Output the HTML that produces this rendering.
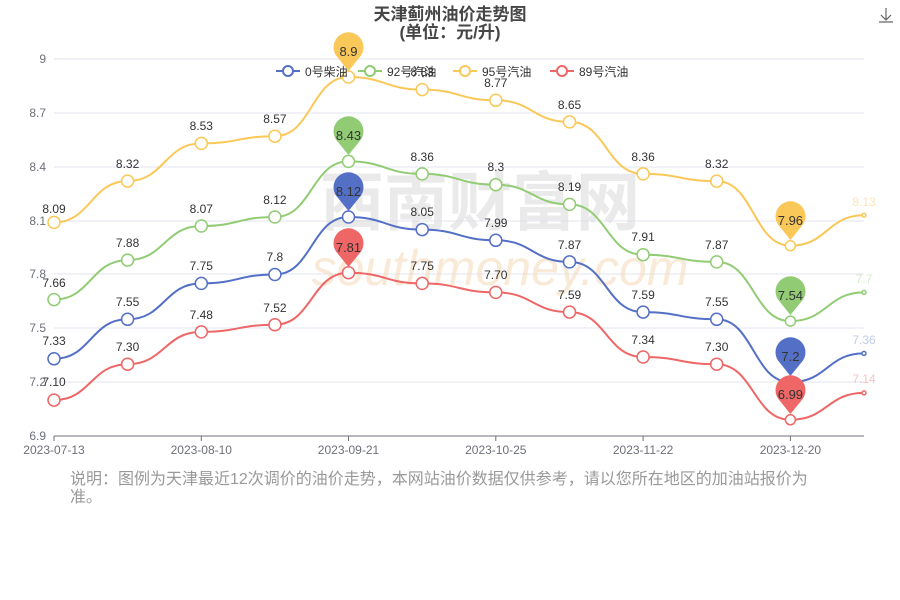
<!DOCTYPE html>
<html><head><meta charset="utf-8"><style>
body{margin:0;background:#fff;width:900px;height:600px;overflow:hidden;font-family:"Liberation Sans","Noto Sans CJK SC",sans-serif}
</style></head><body>
<svg width="900" height="600" xmlns="http://www.w3.org/2000/svg" style="position:absolute;left:0;top:0;font-family:'Liberation Sans','Noto Sans CJK SC',sans-serif">
<text x="450" y="20" text-anchor="middle" font-size="17" font-weight="bold" fill="#464646">天津蓟州油价走势图</text>
<text x="450" y="38" text-anchor="middle" font-size="17" font-weight="bold" fill="#464646">(单位：元/升)</text>
<g stroke="#666" fill="none" stroke-width="1.2"><path d="M886 8v12M881 15l5 5 5-5M879 22h14"/></g>
<g stroke="#e0e6f1" stroke-width="1">
<line x1="54" x2="864" y1="59" y2="59"/><line x1="54" x2="864" y1="113" y2="113"/><line x1="54" x2="864" y1="167" y2="167"/><line x1="54" x2="864" y1="221" y2="221"/><line x1="54" x2="864" y1="274" y2="274"/><line x1="54" x2="864" y1="328" y2="328"/><line x1="54" x2="864" y1="382" y2="382"/>
</g>
<line x1="54" x2="864" y1="436" y2="436" stroke="#6e7079"/>
<g stroke="#6e7079"><line x1="54" x2="54" y1="436" y2="441"/><line x1="201.3" x2="201.3" y1="436" y2="441"/><line x1="348.5" x2="348.5" y1="436" y2="441"/><line x1="495.8" x2="495.8" y1="436" y2="441"/><line x1="643.1" x2="643.1" y1="436" y2="441"/><line x1="790.4" x2="790.4" y1="436" y2="441"/></g>
<g font-size="12" fill="#6e7079" text-anchor="end">
<text x="46" y="63">9</text><text x="46" y="117">8.7</text><text x="46" y="171">8.4</text><text x="46" y="225">8.1</text><text x="46" y="278">7.8</text><text x="46" y="332">7.5</text><text x="46" y="386">7.2</text><text x="46" y="440">6.9</text>
</g>
<g font-size="12" fill="#6e7079" text-anchor="middle">
<text x="54" y="454">2023-07-13</text><text x="201.3" y="454">2023-08-10</text><text x="348.5" y="454">2023-09-21</text><text x="495.8" y="454">2023-10-25</text><text x="643.1" y="454">2023-11-22</text><text x="790.4" y="454">2023-12-20</text>
</g>
<text x="480" y="225" text-anchor="middle" font-size="64" font-weight="bold" fill="#ddd" opacity="0.6">西南财富网</text>
<text x="500" y="285" text-anchor="middle" font-size="50" font-style="italic" fill="#f5d5b0" opacity="0.5">southmoney.com</text>

<g fill="none" stroke-width="2">
<path stroke="#fac858" d="M54 222.4C90.8 222.4 90.8 181.1 127.6 181.1S164.5 143.4 201.3 143.4S238.1 136.2 274.9 136.2S311.7 77 348.5 77S385.4 89.6 422.2 89.6S459 100.3 495.8 100.3S532.7 121.9 569.5 121.9S606.3 173.9 643.1 173.9S679.9 181.1 716.7 181.1S753.6 245.7 790.4 245.7S827.2 215.2 864 215.2"/>
<path stroke="#91cc75" d="M54 299.6C90.8 299.6 90.8 260.1 127.6 260.1S164.5 226 201.3 226S238.1 217 274.9 217S311.7 161.4 348.5 161.4S385.4 173.9 422.2 173.9S459 184.7 495.8 184.7S532.7 204.4 569.5 204.4S606.3 254.7 643.1 254.7S679.9 261.9 716.7 261.9S753.6 321.1 790.4 321.1S827.2 292.4 864 292.4"/>
<path stroke="#5470c6" d="M54 358.8C90.8 358.8 90.8 319.3 127.6 319.3S164.5 283.4 201.3 283.4S238.1 274.5 274.9 274.5S311.7 217 348.5 217S385.4 229.6 422.2 229.6S459 240.3 495.8 240.3S532.7 261.9 569.5 261.9S606.3 312.1 643.1 312.1S679.9 319.3 716.7 319.3S753.6 382.2 790.4 382.2S827.2 353.4 864 353.4"/>
<path stroke="#ee6666" d="M54 400.1C90.8 400.1 90.8 364.2 127.6 364.2S164.5 331.9 201.3 331.9S238.1 324.7 274.9 324.7S311.7 272.7 348.5 272.7S385.4 283.4 422.2 283.4S459 292.4 495.8 292.4S532.7 312.1 569.5 312.1S606.3 357 643.1 357S679.9 364.2 716.7 364.2S753.6 419.8 790.4 419.8S827.2 392.9 864 392.9"/>
</g>
<g fill="#fff" stroke-width="1.5">
<g stroke="#fac858"><circle cx="54" cy="222.4" r="6"/><circle cx="127.6" cy="181.1" r="6"/><circle cx="201.3" cy="143.4" r="6"/><circle cx="274.9" cy="136.2" r="6"/><circle cx="348.5" cy="77" r="6"/><circle cx="422.2" cy="89.6" r="6"/><circle cx="495.8" cy="100.3" r="6"/><circle cx="569.5" cy="121.9" r="6"/><circle cx="643.1" cy="173.9" r="6"/><circle cx="716.7" cy="181.1" r="6"/><circle cx="790.4" cy="245.7" r="5"/><circle cx="864" cy="215.2" r="2"/></g>
<g stroke="#91cc75"><circle cx="54" cy="299.6" r="6"/><circle cx="127.6" cy="260.1" r="6"/><circle cx="201.3" cy="226" r="6"/><circle cx="274.9" cy="217" r="6"/><circle cx="348.5" cy="161.4" r="6"/><circle cx="422.2" cy="173.9" r="6"/><circle cx="495.8" cy="184.7" r="6"/><circle cx="569.5" cy="204.4" r="6"/><circle cx="643.1" cy="254.7" r="6"/><circle cx="716.7" cy="261.9" r="6"/><circle cx="790.4" cy="321.1" r="5"/><circle cx="864" cy="292.4" r="2"/></g>
<g stroke="#5470c6"><circle cx="54" cy="358.8" r="6"/><circle cx="127.6" cy="319.3" r="6"/><circle cx="201.3" cy="283.4" r="6"/><circle cx="274.9" cy="274.5" r="6"/><circle cx="348.5" cy="217" r="6"/><circle cx="422.2" cy="229.6" r="6"/><circle cx="495.8" cy="240.3" r="6"/><circle cx="569.5" cy="261.9" r="6"/><circle cx="643.1" cy="312.1" r="6"/><circle cx="716.7" cy="319.3" r="6"/><circle cx="790.4" cy="382.2" r="5"/><circle cx="864" cy="353.4" r="2"/></g>
<g stroke="#ee6666"><circle cx="54" cy="400.1" r="6"/><circle cx="127.6" cy="364.2" r="6"/><circle cx="201.3" cy="331.9" r="6"/><circle cx="274.9" cy="324.7" r="6"/><circle cx="348.5" cy="272.7" r="6"/><circle cx="422.2" cy="283.4" r="6"/><circle cx="495.8" cy="292.4" r="6"/><circle cx="569.5" cy="312.1" r="6"/><circle cx="643.1" cy="357" r="6"/><circle cx="716.7" cy="364.2" r="6"/><circle cx="790.4" cy="419.8" r="5"/><circle cx="864" cy="392.9" r="2"/></g>
</g>
<g font-size="12" fill="#333" text-anchor="middle">
<text x="54" y="213">8.09</text><text x="127.6" y="168">8.32</text><text x="201.3" y="130">8.53</text><text x="274.9" y="123">8.57</text><text x="422.2" y="76">8.83</text><text x="495.8" y="87">8.77</text><text x="569.5" y="109">8.65</text><text x="643.1" y="161">8.36</text><text x="716.7" y="168">8.32</text><text x="864" y="206" fill="#fde5b8">8.13</text>
<text x="54" y="287">7.66</text><text x="127.6" y="247">7.88</text><text x="201.3" y="213">8.07</text><text x="274.9" y="204">8.12</text><text x="422.2" y="161">8.36</text><text x="495.8" y="171">8.3</text><text x="569.5" y="191">8.19</text><text x="643.1" y="241">7.91</text><text x="716.7" y="249">7.87</text><text x="864" y="283" fill="#d3ebc8">7.7</text>
<text x="54" y="345">7.33</text><text x="127.6" y="306">7.55</text><text x="201.3" y="270">7.75</text><text x="274.9" y="261">7.8</text><text x="422.2" y="216">8.05</text><text x="495.8" y="227">7.99</text><text x="569.5" y="249">7.87</text><text x="643.1" y="299">7.59</text><text x="716.7" y="306">7.55</text><text x="864" y="344" fill="#c3cce9">7.36</text>
<text x="54" y="386">7.10</text><text x="127.6" y="351">7.30</text><text x="201.3" y="319">7.48</text><text x="274.9" y="312">7.52</text><text x="422.2" y="270">7.75</text><text x="495.8" y="279">7.70</text><text x="569.5" y="299">7.59</text><text x="643.1" y="344">7.34</text><text x="716.7" y="351">7.30</text><text x="864" y="383" fill="#f7c2c2">7.14</text>
</g>
<g font-size="13" fill="#333" text-anchor="middle">
<path fill="#fac858" d="M348.5 71 L338 58 A15 15 0 1 1 359 58 Z"/><text x="348.5" y="56">8.9</text>
<path fill="#91cc75" d="M348.5 155 L338 142 A15 15 0 1 1 359 142 Z"/><text x="348.5" y="140">8.43</text>
<path fill="#5470c6" d="M348.5 211 L338 198 A15 15 0 1 1 359 198 Z"/><text x="348.5" y="196">8.12</text>
<path fill="#ee6666" d="M348.5 267 L338 254 A15 15 0 1 1 359 254 Z"/><text x="348.5" y="252">7.81</text>
<path fill="#fac858" d="M790.4 240 L780 227 A15 15 0 1 1 801 227 Z"/><text x="790.4" y="225">7.96</text>
<path fill="#91cc75" d="M790.4 315 L780 302 A15 15 0 1 1 801 302 Z"/><text x="790.4" y="300">7.54</text>
<path fill="#5470c6" d="M790.4 376 L780 363 A15 15 0 1 1 801 363 Z"/><text x="790.4" y="361">7.2</text>
<path fill="#ee6666" d="M790.4 414 L780 401 A15 15 0 1 1 801 401 Z"/><text x="790.4" y="399">6.99</text>
</g>
<g font-size="12" fill="#333" stroke-width="2">
<line x1="276" x2="300" y1="71" y2="71" stroke="#5470c6"/><circle cx="288" cy="71" r="5" fill="#fff" stroke="#5470c6"/><text x="305" y="76">0号柴油</text>
<line x1="358" x2="382" y1="71" y2="71" stroke="#91cc75"/><circle cx="370" cy="71" r="5" fill="#fff" stroke="#91cc75"/><text x="387" y="76">92号汽油</text>
<line x1="453" x2="477" y1="71" y2="71" stroke="#fac858"/><circle cx="465" cy="71" r="5" fill="#fff" stroke="#fac858"/><text x="482" y="76">95号汽油</text>
<line x1="550" x2="574" y1="71" y2="71" stroke="#ee6666"/><circle cx="562" cy="71" r="5" fill="#fff" stroke="#ee6666"/><text x="579" y="76">89号汽油</text>
</g>
<text x="70" y="484" font-size="16" fill="#999">说明：图例为天津最近12次调价的油价走势，本网站油价数据仅供参考，请以您所在地区的加油站报价为</text>
<text x="70" y="502" font-size="16" fill="#999">准。</text>
</svg>
</body></html>
